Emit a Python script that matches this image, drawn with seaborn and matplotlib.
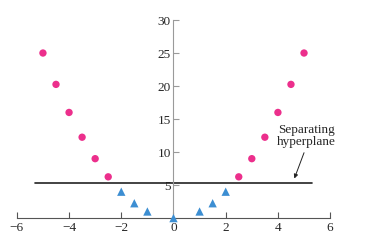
import numpy as np
import pandas as pd
import seaborn as sns
import matplotlib.pyplot as plt

sns.set_style("white")
plt.rcParams['font.family'] = ['Liberation Serif', 'DejaVu Serif']

# points of the two classes
circle_x = [-5, -4.5, -4, -3.5, -3, -2.5, 2.5, 3, 3.5, 4, 4.5, 5]
circle_y = [25, 20.25, 16, 12.25, 9, 6.25, 6.25, 9, 12.25, 16, 20.25, 25]
tri_x = [-2, -1.5, -1, 0, 1, 1.5, 2]
tri_y = [4, 2.25, 1, 0, 1, 2.25, 4]
plane_x = [-5.3, 5.3]
plane_y = [5.3, 5.3]
xticks = [-6, -4, -2, 0, 2, 4, 6]
yticks = [5, 10, 15, 20, 25, 30]

df = pd.DataFrame({
    'x': circle_x + tri_x,
    'y': circle_y + tri_y,
    'cls': ['out'] * len(circle_x) + ['in'] * len(tri_x),
})

fig = plt.figure(figsize=(3.66, 2.41), dpi=100)
ax = fig.add_axes([0.046, 0.095, 0.856, 0.822])

sns.lineplot(x=plane_x, y=plane_y, color='#222222', lw=1.2, ax=ax)
sns.scatterplot(data=df, x='x', y='y', hue='cls', style='cls',
                palette={'out': '#EC2F8C', 'in': '#3C8ED2'},
                markers={'out': 'o', 'in': '^'},
                size='cls', sizes={'out': 28, 'in': 36},
                linewidth=0, legend=False, clip_on=False, zorder=3, ax=ax)

ax.text(5.08, 12.4, 'Separating\nhyperplane', ha='center', va='center',
        fontsize=9.5, linespacing=1.0)
ax.annotate('', xy=(4.63, 6.0), xytext=(5.0, 9.9),
            arrowprops=dict(arrowstyle='-|>', color='#222222', lw=0.7,
                            mutation_scale=6, shrinkA=0, shrinkB=0))

ax.set_xlim(-6, 6)
ax.set_ylim(0, 30)
ax.set_xticks(xticks)
ax.set_yticks(yticks)
ax.set_xticklabels([str(t).replace('-', '\u2212') for t in xticks])
ax.set_xlabel('')
ax.set_ylabel('')

ax.spines['left'].set_position(('data', 0))
ax.spines['left'].set_color('#9a9a9a')
ax.spines['bottom'].set_color('#555555')
ax.spines['right'].set_visible(False)
ax.spines['top'].set_visible(False)

ax.tick_params(axis='x', direction='in', length=4, width=0.8, color='#555555',
               labelsize=9.5, pad=3, bottom=True)
ax.tick_params(axis='y', direction='in', length=4, width=0.8, color='#9a9a9a',
               labelsize=9.5, pad=2, left=True)

fig.savefig('out.png', dpi=100)
